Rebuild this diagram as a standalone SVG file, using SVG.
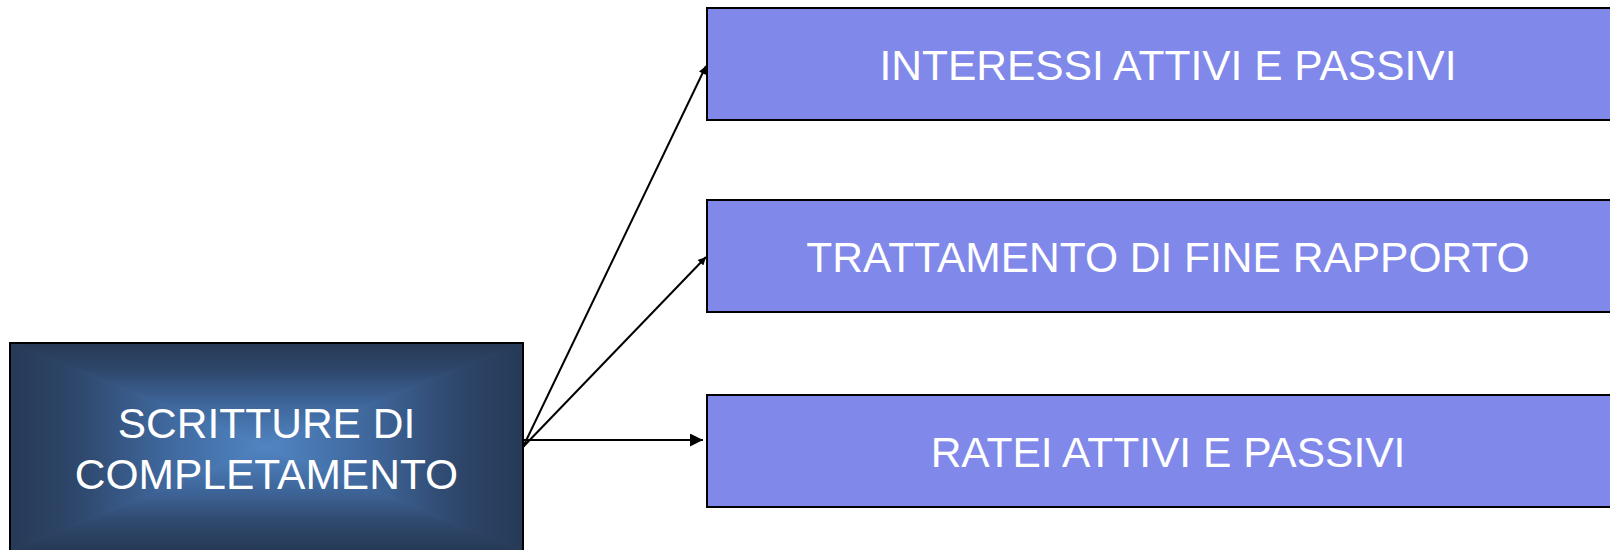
<svg xmlns="http://www.w3.org/2000/svg" width="1610" height="550" viewBox="0 0 1610 550">
  <style>
    .item rect { fill: #8089E9; stroke: #000; stroke-width: 2; }
    .item text, .root text { font-family: "Liberation Sans", Arial, sans-serif; font-size: 42.5px; fill: #fff; text-anchor: middle; }
    .root polygon { stroke-width: 1; }
    .conn line { stroke: #000; stroke-width: 2; fill: none; }
  </style>
  <defs>
    <!-- rectangular "path" gradient built from four edge-to-centre ramps -->
    <linearGradient id="ramp">
      <stop offset="0" stop-color="#263a56"/>
      <stop offset="0.25" stop-color="#2e466a"/>
      <stop offset="0.6" stop-color="#3f679c"/>
      <stop offset="1" stop-color="#5085c3"/>
    </linearGradient>
    <linearGradient id="gTop" href="#ramp" x1="0" y1="343" x2="0" y2="447" gradientUnits="userSpaceOnUse"/>
    <linearGradient id="gBottom" href="#ramp" x1="0" y1="551" x2="0" y2="447" gradientUnits="userSpaceOnUse"/>
    <linearGradient id="gLeft" href="#ramp" x1="10" y1="0" x2="266.5" y2="0" gradientUnits="userSpaceOnUse"/>
    <linearGradient id="gRight" href="#ramp" x1="523" y1="0" x2="266.5" y2="0" gradientUnits="userSpaceOnUse"/>
    <marker id="headSmall" viewBox="0 0 10 10" refX="10" refY="5" markerWidth="10" markerHeight="8" markerUnits="userSpaceOnUse" orient="auto">
      <path d="M0,0 L10,5 L0,10 Z" fill="#000"/>
    </marker>
    <marker id="headLarge" viewBox="0 0 10 10" refX="10" refY="5" markerWidth="15" markerHeight="13" markerUnits="userSpaceOnUse" orient="auto">
      <path d="M0,0 L10,5 L0,10 Z" fill="#000"/>
    </marker>
  </defs>

  <rect width="1610" height="550" fill="#fff"/>

  <!-- source node -->
  <g id="scritture" class="root">
    <polygon points="10,343 523,343 266.5,447" fill="url(#gTop)" stroke="url(#gTop)"/>
    <polygon points="10,551 523,551 266.5,447" fill="url(#gBottom)" stroke="url(#gBottom)"/>
    <polygon points="10,343 10,551 266.5,447" fill="url(#gLeft)" stroke="url(#gLeft)"/>
    <polygon points="523,343 523,551 266.5,447" fill="url(#gRight)" stroke="url(#gRight)"/>
    <rect x="10" y="343" width="513" height="208" fill="none" stroke="#000" stroke-width="2"/>
    <text x="266.5" y="438">SCRITTURE DI</text>
    <text x="266.5" y="489">COMPLETAMENTO</text>
  </g>

  <!-- target nodes -->
  <g id="interessi" class="item">
    <rect x="707" y="8" width="940" height="112"/>
    <text x="1168" y="80">INTERESSI ATTIVI E PASSIVI</text>
  </g>
  <g id="tfr" class="item">
    <rect x="707" y="200" width="940" height="112"/>
    <text x="1168" y="272">TRATTAMENTO DI FINE RAPPORTO</text>
  </g>
  <g id="ratei" class="item">
    <rect x="707" y="395" width="940" height="112"/>
    <text x="1168" y="467">RATEI ATTIVI E PASSIVI</text>
  </g>

  <!-- connectors -->
  <g id="connectors" class="conn">
    <line x1="523" y1="447" x2="706" y2="66" marker-end="url(#headSmall)"/>
    <line x1="523" y1="447" x2="706" y2="257" marker-end="url(#headSmall)"/>
    <line x1="523" y1="440" x2="703" y2="440" marker-end="url(#headLarge)"/>
  </g>
</svg>
